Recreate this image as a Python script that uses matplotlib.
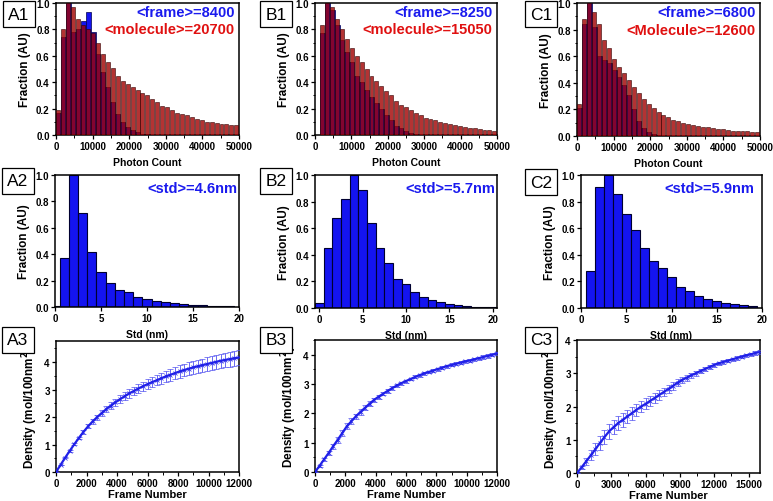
import matplotlib

matplotlib.use("Agg")
import matplotlib.pyplot as plt   # noqa: E402
import numpy as np                # noqa: E402
from matplotlib.ticker import AutoMinorLocator, MultipleLocator  # noqa: E402

plt.rcParams["font.family"] = ["Liberation Sans", "DejaVu Sans"]
plt.rcParams["font.weight"] = "bold"
plt.rcParams["mathtext.default"] = "bf"

# ---- row 1: photon count histograms (bin width 1350 photons) ----
PHOTON_BIN = 1350
a1_frame = [0.17, 0.74, 1.0, 0.78, 0.80, 0.86, 0.93, 0.78, 0.61, 0.48, 0.36,
            0.25, 0.16, 0.10, 0.06, 0.04, 0.02, 0.01, 0.005]
a1_molecule = [0.19, 0.80, 1.0, 0.97, 0.88, 0.83, 0.80, 0.77, 0.70, 0.61, 0.55,
               0.51, 0.45, 0.41, 0.39, 0.36, 0.34, 0.32, 0.30, 0.27, 0.25, 0.22,
               0.21, 0.19, 0.17, 0.16, 0.15, 0.14, 0.12, 0.11, 0.10, 0.10, 0.09,
               0.085, 0.08, 0.075, 0.075]
b1_frame = [0.0, 0.77, 1.0, 0.95, 0.83, 0.72, 0.63, 0.55, 0.45, 0.40, 0.34,
            0.29, 0.24, 0.20, 0.15, 0.11, 0.07, 0.05, 0.03, 0.015, 0.01]
b1_molecule = [0.0, 0.83, 1.0, 0.97, 0.88, 0.80, 0.73, 0.66, 0.60, 0.55, 0.50,
               0.45, 0.41, 0.37, 0.33, 0.30, 0.26, 0.23, 0.21, 0.19, 0.17, 0.15,
               0.13, 0.12, 0.11, 0.10, 0.09, 0.08, 0.075, 0.07, 0.06, 0.055,
               0.05, 0.045, 0.04, 0.035, 0.03]
c1_frame = [0.21, 0.84, 1.0, 0.82, 0.60, 0.57, 0.55, 0.50, 0.44, 0.38, 0.31,
            0.20, 0.11, 0.06, 0.03, 0.015, 0.005]
c1_molecule = [0.24, 0.88, 1.0, 0.93, 0.84, 0.72, 0.66, 0.58, 0.52, 0.47, 0.42,
               0.37, 0.32, 0.28, 0.24, 0.21, 0.18, 0.16, 0.14, 0.12, 0.11, 0.10,
               0.09, 0.08, 0.075, 0.07, 0.065, 0.06, 0.055, 0.05, 0.045, 0.04,
               0.04, 0.035, 0.035, 0.03, 0.03]
row1_frame_text = ["<frame>=8400", "<frame>=8250", "<frame>=6800"]
row1_mol_text = ["<molecule>=20700", "<molecule>=15050", "<Molecule>=12600"]

# ---- row 2: localisation std histograms (1 nm bins, centred on integers) ----
a2_std = [0.01, 0.37, 1.0, 0.71, 0.42, 0.265, 0.18, 0.13, 0.11, 0.076, 0.063,
          0.045, 0.038, 0.028, 0.02, 0.018, 0.013, 0.01, 0.008, 0.005]
b2_std = [0.04, 0.45, 0.68, 0.82, 1.0, 0.89, 0.64, 0.45, 0.335, 0.22, 0.18,
          0.12, 0.085, 0.063, 0.045, 0.03, 0.023, 0.017, 0.01, 0.008, 0.005]
c2_std = [0.0, 0.28, 0.91, 1.0, 0.86, 0.71, 0.59, 0.45, 0.35, 0.30, 0.23,
          0.155, 0.13, 0.093, 0.068, 0.05, 0.04, 0.03, 0.023, 0.018]
row2_text = ["<std>=4.6nm", "<std>=5.7nm", "<std>=5.9nm"]

# ---- row 3: density vs frame number ----
a3_frames = list(range(0, 12001, 300))
a3_density = [0, 0.26, 0.52, 0.77, 1.01, 1.24, 1.46, 1.66, 1.84, 2.0, 2.15,
              2.29, 2.42, 2.54, 2.65, 2.76, 2.86, 2.95, 3.04, 3.12, 3.2, 3.27,
              3.34, 3.41, 3.48, 3.54, 3.60, 3.66, 3.71, 3.76, 3.81, 3.85, 3.89,
              3.93, 3.97, 4.01, 4.05, 4.08, 4.11, 4.14, 4.17]
a3_err = [0, 0.01, 0.02, 0.03, 0.04, 0.05, 0.06, 0.07, 0.08, 0.09, 0.10, 0.11,
          0.12, 0.13, 0.14, 0.15, 0.15, 0.16, 0.17, 0.17, 0.18, 0.19, 0.19,
          0.2, 0.2, 0.21, 0.21, 0.22, 0.22, 0.23, 0.23, 0.24, 0.24, 0.25, 0.25,
          0.26, 0.26, 0.27, 0.27, 0.28, 0.28]
b3_frames = list(range(0, 12001, 300))
b3_density = [0, 0.21, 0.43, 0.65, 0.88, 1.1, 1.33, 1.56, 1.73, 1.9, 2.05,
              2.19, 2.33, 2.46, 2.57, 2.67, 2.77, 2.86, 2.95, 3.03, 3.1, 3.17,
              3.24, 3.30, 3.36, 3.41, 3.46, 3.51, 3.56, 3.61, 3.65, 3.69, 3.73,
              3.77, 3.8, 3.84, 3.88, 3.92, 3.96, 4.0, 4.04]
b3_err = [0, 0.04, 0.06, 0.08, 0.09, 0.1, 0.1, 0.1, 0.1, 0.09, 0.09, 0.08,
          0.08, 0.07, 0.07, 0.06, 0.06, 0.06, 0.05, 0.05, 0.05, 0.05, 0.05,
          0.05, 0.05, 0.05, 0.05, 0.05, 0.05, 0.05, 0.05, 0.05, 0.05, 0.05,
          0.05, 0.05, 0.05, 0.06, 0.06, 0.06, 0.06]
c3_frames = list(range(0, 16001, 400))
c3_density = [0, 0.17, 0.35, 0.53, 0.71, 0.9, 1.08, 1.25, 1.38, 1.5, 1.6, 1.7,
              1.8, 1.9, 2.0, 2.08, 2.17, 2.26, 2.35, 2.44, 2.53, 2.62, 2.72,
              2.8, 2.87, 2.94, 3.0, 3.07, 3.13, 3.19, 3.25, 3.3, 3.34, 3.38,
              3.42, 3.46, 3.5, 3.54, 3.57, 3.61, 3.64]
c3_err = [0, 0.05, 0.1, 0.15, 0.18, 0.2, 0.22, 0.22, 0.22, 0.22, 0.21, 0.2,
          0.2, 0.19, 0.18, 0.17, 0.16, 0.15, 0.14, 0.13, 0.12, 0.11, 0.1, 0.1,
          0.09, 0.08, 0.08, 0.07, 0.07, 0.06, 0.06, 0.05, 0.05, 0.05, 0.05,
          0.05, 0.05, 0.05, 0.05, 0.05, 0.05]

BLUE = "#1414f0"
BLUE_TXT = "#1a1aee"
RED_TXT = "#e01010"

W, H = 773, 502


def ax_px(fig, l, t, r, b):
    return fig.add_axes([l / W, 1 - b / H, (r - l) / W, (b - t) / H])


def style(ax):
    for s in ax.spines.values():
        s.set_linewidth(1.1)
    ax.tick_params(direction="out", length=3, width=0.9, labelsize=7,
                   pad=1.5, top=False, right=False)
    ax.tick_params(which="minor", direction="out", length=1.8, width=0.7)
    for lab in ax.get_xticklabels() + ax.get_yticklabels():
        lab.set_fontweight("bold")


def panel_label(fig, cx, cy, txt):
    fig.text(cx / W, 1 - cy / H, txt, fontsize=12.5, fontweight="normal",
             ha="center", va="center",
             bbox=dict(boxstyle="square,pad=0.3", fc="white", ec="black",
                       lw=0.9))


fig = plt.figure(figsize=(W / 100, H / 100), dpi=100)

# axes rectangles in pixels: left, top, right, bottom
row1_boxes = [(56, 4, 239, 136), (315, 4, 497, 136), (577, 4, 760, 137)]
row2_boxes = [(55, 176, 239, 308), (315, 176, 497, 309), (581, 176, 762, 309)]
row3_boxes = [(56, 342, 239, 473), (315, 341, 497, 473), (577, 341, 760, 474)]

frames = [a1_frame, b1_frame, c1_frame]
mols = [a1_molecule, b1_molecule, c1_molecule]
for i, box in enumerate(row1_boxes):
    ax = ax_px(fig, *box)
    fr = np.array(frames[i])
    mo = np.array(mols[i])
    xf = (np.arange(len(fr)) + 0.5) * PHOTON_BIN
    xm = (np.arange(len(mo)) + 0.5) * PHOTON_BIN
    ax.bar(xf, fr, width=PHOTON_BIN, color=BLUE, edgecolor="#00004a",
           linewidth=0.5, zorder=2)
    ax.bar(xm, mo, width=PHOTON_BIN * 0.8, color="#a00000", alpha=0.8,
           edgecolor="#300000", linewidth=0.5, zorder=3)
    ax.set_xlim(0, 50000)
    ax.set_ylim(0, 1.0)
    ax.xaxis.set_major_locator(MultipleLocator(10000))
    ax.xaxis.set_minor_locator(AutoMinorLocator(2))
    ax.yaxis.set_major_locator(MultipleLocator(0.2))
    ax.yaxis.set_minor_locator(AutoMinorLocator(2))
    ax.yaxis.set_major_formatter(plt.FormatStrFormatter("%.1f"))
    ax.set_xlabel("Photon Count", fontsize=7.5, fontweight="bold", labelpad=4)
    ax.set_ylabel("Fraction (AU)", fontsize=8.5, fontweight="bold", labelpad=4)
    ax.text(0.975, 0.93, row1_frame_text[i], transform=ax.transAxes,
            ha="right", va="center", color=BLUE_TXT, fontsize=10.5,
            fontweight="bold", zorder=5)
    ax.text(0.975, 0.80, row1_mol_text[i], transform=ax.transAxes,
            ha="right", va="center", color=RED_TXT, fontsize=10.5,
            fontweight="bold", zorder=5)
    style(ax)

stds = [a2_std, b2_std, c2_std]
xlims2 = [(0, 20), (-0.5, 20.5), (0, 20)]
for i, box in enumerate(row2_boxes):
    ax = ax_px(fig, *box)
    v = np.array(stds[i])
    ax.bar(np.arange(len(v)), v, width=1.0, color=BLUE, edgecolor="#000030",
           linewidth=0.8, zorder=2)
    ax.set_xlim(*xlims2[i])
    ax.set_ylim(0, 1.0)
    ax.xaxis.set_major_locator(MultipleLocator(5))
    ax.yaxis.set_major_locator(MultipleLocator(0.2))
    ax.yaxis.set_major_formatter(plt.FormatStrFormatter("%.1f"))
    ax.set_xlabel("Std (nm)", fontsize=7.5, fontweight="bold", labelpad=4)
    ax.set_ylabel("Fraction (AU)", fontsize=8.5, fontweight="bold", labelpad=4)
    ax.text(0.99 if i < 2 else 0.955, 0.90, row2_text[i],
            transform=ax.transAxes, ha="right", va="center", color=BLUE_TXT,
            fontsize=10.5, fontweight="bold", zorder=5)
    style(ax)

xs3 = [a3_frames, b3_frames, c3_frames]
ys3 = [a3_density, b3_density, c3_density]
es3 = [a3_err, b3_err, c3_err]
xlim3 = [12000, 12000, 16000]
ylim3 = [4.77, 4.5, 4.0]
xstep3 = [2000, 2000, 3000]
for i, box in enumerate(row3_boxes):
    ax = ax_px(fig, *box)
    ax.errorbar(xs3[i], ys3[i], yerr=es3[i], fmt="-", color="#2020e8",
                lw=1.6, elinewidth=0.6, ecolor="#5050f0", capsize=2.2,
                capthick=0.6, marker="x", ms=2.5, mew=0.5, zorder=3)
    ax.set_xlim(0, xlim3[i])
    ax.set_ylim(0, ylim3[i])
    ax.xaxis.set_major_locator(MultipleLocator(xstep3[i]))
    ax.xaxis.set_minor_locator(AutoMinorLocator(2))
    ax.yaxis.set_major_locator(MultipleLocator(1))
    ax.yaxis.set_minor_locator(AutoMinorLocator(2))
    ax.set_xlabel("Frame Number", fontsize=8, fontweight="bold", labelpad=0.5)
    ax.set_ylabel(r"Density (mol/100nm$^{2}$)", fontsize=8.5,
                  fontweight="bold", labelpad=3)
    style(ax)

labels = [
    (19, 15, "A1"), (276, 15, "B1"), (541, 15, "C1"),
    (18, 182, "A2"), (276, 182, "B2"), (541, 183, "C2"),
    (18, 341, "A3"), (276, 341, "B3"), (541, 341, "C3"),
]
for cx, cy, t in labels:
    panel_label(fig, cx, cy, t)

fig.savefig("out.png", dpi=100)
